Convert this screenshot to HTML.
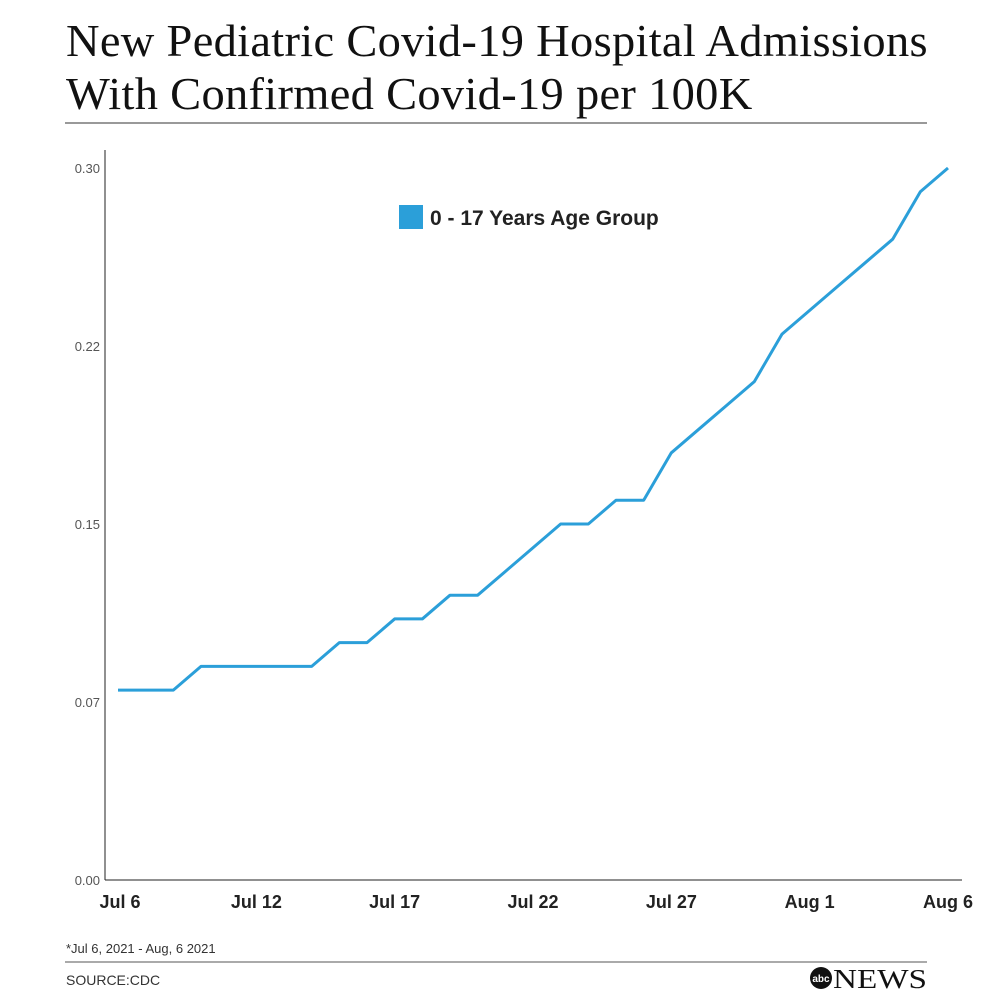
<!DOCTYPE html>
<html><head><meta charset="utf-8"><style>
body{margin:0;background:#fff;width:992px;height:992px;overflow:hidden;font-family:"Liberation Sans",sans-serif}
.t{position:absolute;left:66px;top:14px;font-family:"Liberation Serif",serif;font-size:46px;line-height:53px;color:#111;letter-spacing:0.3px;transform:scaleX(1.01);transform-origin:left;white-space:nowrap}
</style></head><body>
<div class="t">New Pediatric Covid-19 Hospital Admissions<br>With Confirmed Covid-19 per 100K</div>
<svg width="992" height="992" style="position:absolute;left:0;top:0" id="c">
<line x1="65" y1="123" x2="927" y2="123" stroke="#333" stroke-width="1"/>
<line x1="105" y1="150" x2="105" y2="880" stroke="#222" stroke-width="1"/>
<line x1="105" y1="880" x2="962" y2="880" stroke="#222" stroke-width="1"/>
<rect x="399" y="205" width="24" height="24" fill="#2b9fd9"/>
<text x="430" y="225" font-size="21" font-weight="bold" fill="#222">0 - 17 Years Age Group</text>
<text x="66" y="953" font-size="13" fill="#333">*Jul 6, 2021 - Aug, 6 2021</text>
<line x1="65" y1="962" x2="927" y2="962" stroke="#555" stroke-width="1"/>
<text x="66" y="985" font-size="14" fill="#333">SOURCE:CDC</text>
<circle cx="821" cy="978" r="11" fill="#111"/>
<text x="821" y="982" font-size="10" font-weight="bold" fill="#fff" text-anchor="middle">abc</text>
<text x="833" y="988" font-size="27" textLength="94" lengthAdjust="spacingAndGlyphs" font-family="Liberation Serif,serif" fill="#111">NEWS</text>
</svg>
<script>
const values=[0.08,0.08,0.08,0.09,0.09,0.09,0.09,0.09,0.10,0.10,0.11,0.11,0.12,0.12,0.13,0.14,0.15,0.15,0.16,0.16,0.18,0.19,0.20,0.21,0.23,0.24,0.25,0.26,0.27,0.29,0.30];
const yTicks=[0,0.075,0.15,0.225,0.30];
const yTickLabels=["0.00","0.07","0.15","0.22","0.30"];
const xLabelIdx=[0,5,10,15,20,25,30];
const xLabels=["Jul 6","Jul 12","Jul 17","Jul 22","Jul 27","Aug 1","Aug 6"];
const svg=document.getElementById('c');const NS='http://www.w3.org/2000/svg';
const X=i=>118+i*(948-118)/(values.length-1);
const Y=v=>880-v/0.30*712;
yTicks.forEach((v,k)=>{const t=document.createElementNS(NS,'text');


t.setAttribute('x',100);t.setAttribute('y',Y(v)+5);t.setAttribute('text-anchor','end');t.setAttribute('font-size','13');t.setAttribute('fill','#555');t.textContent=yTickLabels[k];svg.appendChild(t);});
xLabelIdx.forEach((i,k)=>{const t=document.createElementNS(NS,'text');


t.setAttribute('x',X(i)+(k==0?2:0));t.setAttribute('y',908);t.setAttribute('text-anchor','middle');t.setAttribute('font-size','18');t.setAttribute('font-weight','bold');t.setAttribute('fill','#222');t.textContent=xLabels[k];svg.appendChild(t);});
const p=document.createElementNS(NS,'polyline');


p.setAttribute('points',values.map((v,i)=>X(i)+','+Y(v)).join(' '));
p.setAttribute('fill','none');p.setAttribute('stroke','#2b9fd9');p.setAttribute('stroke-width','3');p.setAttribute('stroke-linejoin','round');
svg.appendChild(p);
</script>
</body></html>
